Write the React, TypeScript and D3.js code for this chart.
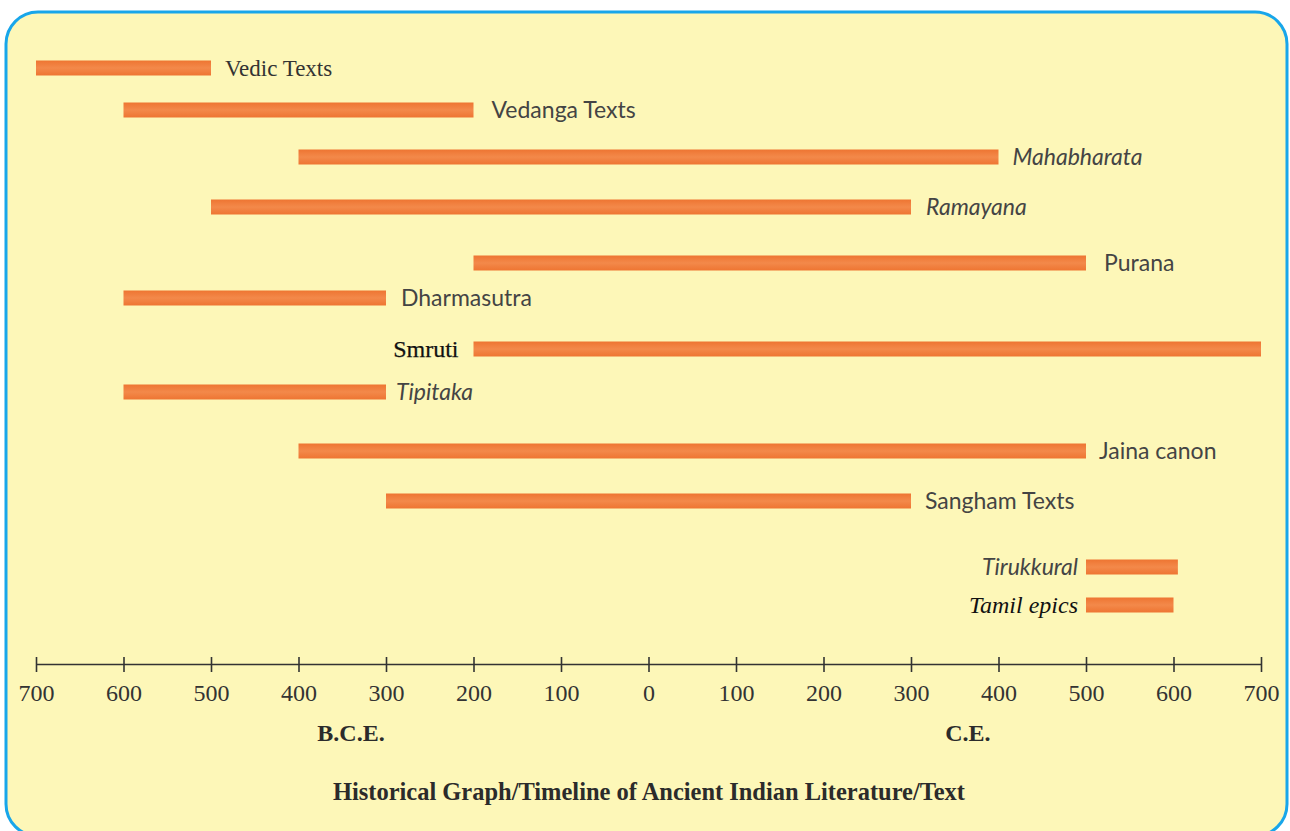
import React, { useEffect, useRef } from 'react';
import * as d3 from 'd3';

// years are signed: negative = B.C.E., positive = C.E.
const texts = [
  'Vedic Texts', 'Vedanga Texts', 'Mahabharata', 'Ramayana', 'Purana', 'Dharmasutra',
  'Smruti', 'Tipitaka', 'Jaina canon', 'Sangham Texts', 'Tirukkural', 'Tamil epics',
];
const startYears = [-700, -600, -400, -500, -200, -600, -200, -600, -400, -300, 500, 500];
const endYears = [-500, -200, 400, 300, 500, -300, 700, -300, 500, 300, 605, 600];
const tickYears = [-700, -600, -500, -400, -300, -200, -100, 0, 100, 200, 300, 400, 500, 600, 700];
const eraLabels = [
  { label: 'B.C.E.', year: -340 },
  { label: 'C.E.', year: 365 },
];
const title = 'Historical Graph/Timeline of Ancient Indian Literature/Text';

const W = 1290;
const H = 831;
const axisY = 664;
const barH = 15;

const SERIF = '"Liberation Serif", "Times New Roman", serif';
const SANS = 'Lato, "Noto Sans", sans-serif';

// per-row layout: vertical centre, label side, label font
const rowY = [68, 110, 157, 207, 263, 298, 349, 392, 451, 501, 567, 605];
const labelStyle: Record<string, { side: 'left' | 'right'; font: string; italic?: boolean; size: number; color: string; gap: number; heavy?: boolean }> = {
  'Vedic Texts': { side: 'right', font: SERIF, size: 23, color: '#333', gap: 14 },
  'Vedanga Texts': { side: 'right', font: SANS, size: 23, color: '#444', gap: 18 },
  'Mahabharata': { side: 'right', font: SANS, italic: true, size: 23, color: '#444', gap: 14 },
  'Ramayana': { side: 'right', font: SANS, italic: true, size: 23, color: '#444', gap: 15 },
  'Purana': { side: 'right', font: SANS, size: 23, color: '#444', gap: 18 },
  'Dharmasutra': { side: 'right', font: SANS, size: 23, color: '#444', gap: 15 },
  'Smruti': { side: 'left', font: SERIF, size: 24, color: '#111', gap: 15, heavy: true },
  'Tipitaka': { side: 'right', font: SANS, italic: true, size: 23, color: '#444', gap: 10 },
  'Jaina canon': { side: 'right', font: SANS, size: 23, color: '#444', gap: 13 },
  'Sangham Texts': { side: 'right', font: SANS, size: 23, color: '#444', gap: 14 },
  'Tirukkural': { side: 'left', font: SANS, italic: true, size: 23, color: '#444', gap: 8 },
  'Tamil epics': { side: 'left', font: SERIF, italic: true, size: 24, color: '#111', gap: 8 },
};

const Timeline: React.FC = () => {
  const svgRef = useRef<SVGSVGElement>(null);

  useEffect(() => {
    const svg = d3.select(svgRef.current);
    svg.selectAll('*').remove();

    const x = d3.scaleLinear().domain([-700, 700]).range([36, 1261]);

    const defs = svg.append('defs');
    const grad = defs.append('linearGradient')
      .attr('id', 'barGrad')
      .attr('x1', 0).attr('y1', 0).attr('x2', 0).attr('y2', 1);
    grad.append('stop').attr('offset', '0%').attr('stop-color', '#EE7532');
    grad.append('stop').attr('offset', '50%').attr('stop-color', '#F3894A');
    grad.append('stop').attr('offset', '100%').attr('stop-color', '#EE7532');

    // panel
    svg.append('rect')
      .attr('x', 0).attr('y', 0).attr('width', W).attr('height', H)
      .attr('fill', '#ffffff');
    svg.append('rect')
      .attr('x', 6).attr('y', 12)
      .attr('width', 1281).attr('height', 824)
      .attr('rx', 32).attr('ry', 32)
      .attr('fill', '#FDF7B8')
      .attr('stroke', '#18A6EA')
      .attr('stroke-width', 3);

    const data = texts.map((name, i) => ({
      name,
      start: startYears[i],
      end: endYears[i],
      y: rowY[i],
    }));

    // bars
    svg.selectAll('.bar')
      .data(data)
      .enter()
      .append('rect')
      .attr('class', 'bar')
      .attr('x', d => x(d.start))
      .attr('y', d => d.y - barH / 2)
      .attr('width', d => x(d.end) - x(d.start))
      .attr('height', barH)
      .attr('fill', 'url(#barGrad)');

    // labels
    svg.selectAll('.label')
      .data(data)
      .enter()
      .append('text')
      .attr('class', 'label')
      .attr('x', d => {
        const s = labelStyle[d.name];
        return s.side === 'right' ? x(d.end) + s.gap : x(d.start) - s.gap;
      })
      .attr('y', d => d.y + 8)
      .attr('text-anchor', d => (labelStyle[d.name].side === 'right' ? 'start' : 'end'))
      .attr('font-family', d => labelStyle[d.name].font)
      .attr('font-style', d => (labelStyle[d.name].italic ? 'italic' : 'normal'))
      .attr('font-size', d => labelStyle[d.name].size)
      .attr('fill', d => labelStyle[d.name].color)
      .attr('stroke', d => (labelStyle[d.name].heavy ? labelStyle[d.name].color : 'none'))
      .attr('stroke-width', 0.25)
      .text(d => d.name);

    // axis
    const axis = d3.axisBottom(x)
      .tickValues(tickYears)
      .tickFormat(d => String(Math.abs(+d)))
      .tickSizeInner(8)
      .tickSizeOuter(0);

    const g = svg.append('g')
      .attr('transform', `translate(0,${axisY})`)
      .call(axis);
    g.select('.domain').attr('stroke', '#333').attr('stroke-width', 1.6);
    g.selectAll('.tick line')
      .attr('y1', -7).attr('y2', 8)
      .attr('stroke', '#333').attr('stroke-width', 1.6);
    g.selectAll('.tick text')
      .attr('y', 37).attr('dy', 0)
      .attr('font-family', SERIF)
      .attr('font-size', 24)
      .attr('fill', '#333');

    // era labels
    svg.selectAll('.era')
      .data(eraLabels)
      .enter()
      .append('text')
      .attr('class', 'era')
      .attr('x', d => x(d.year))
      .attr('y', 741)
      .attr('text-anchor', 'middle')
      .attr('font-family', SERIF)
      .attr('font-weight', 'bold')
      .attr('font-size', 24)
      .attr('fill', '#2b2b2b')
      .text(d => d.label);

    // title
    svg.append('text')
      .attr('x', 649)
      .attr('y', 800)
      .attr('text-anchor', 'middle')
      .attr('font-family', SERIF)
      .attr('font-weight', 'bold')
      .attr('font-size', 26)
      .attr('fill', '#2b2b2b')
      .attr('textLength', 632)
      .attr('lengthAdjust', 'spacingAndGlyphs')
      .text(title);
  }, []);

  return (
    <svg
      ref={svgRef}
      width={W}
      height={H}
      style={{ position: 'absolute', left: 0, top: 0, display: 'block' }}
    />
  );
};

export default function App() {
  return <Timeline />;
}
